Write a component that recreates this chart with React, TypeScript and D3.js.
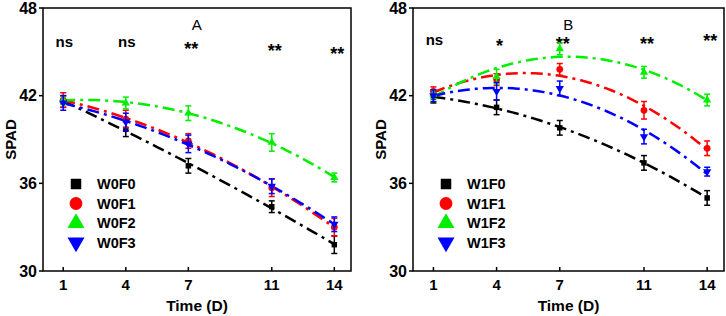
import { useEffect, useRef } from "react";
import * as d3 from "d3";

// sampling days
const days = [1, 4, 7, 11, 14];
const yTicks = [30, 36, 42, 48];

// panel A (W0)
const namesA = ["W0F0", "W0F1", "W0F2", "W0F3"];
const w0f0 = [41.6, 39.7, 37.2, 34.4, 31.8];
const w0f1 = [41.7, 40.4, 38.9, 35.7, 33.0];
const w0f2 = [41.7, 41.5, 40.8, 38.8, 36.4];
const w0f3 = [41.5, 40.2, 38.7, 35.8, 33.2];
const w0f0Err = [0.4, 0.5, 0.5, 0.4, 0.6];
const w0f1Err = [0.5, 0.6, 0.5, 0.6, 0.6];
const w0f2Err = [0.3, 0.4, 0.5, 0.6, 0.3];
const w0f3Err = [0.5, 0.6, 0.6, 0.5, 0.5];
const sigA = ["ns", "ns", "**", "**", "**"];

// panel B (W1)
const namesB = ["W1F0", "W1F1", "W1F2", "W1F3"];
const w1f0 = [41.9, 41.2, 39.8, 37.4, 35.0];
const w1f1 = [42.3, 43.1, 43.8, 41.0, 38.4];
const w1f2 = [42.1, 43.3, 45.2, 43.6, 41.7];
const w1f3 = [42.0, 42.3, 42.5, 39.2, 36.8];
const w1f0Err = [0.4, 0.5, 0.5, 0.5, 0.5];
const w1f1Err = [0.3, 0.4, 0.4, 0.6, 0.5];
const w1f2Err = [0.3, 0.5, 0.4, 0.4, 0.4];
const w1f3Err = [0.4, 0.6, 0.5, 0.5, 0.3];
const sigB = ["ns", "*", "**", "**", "**"];

const colors = ["#000000", "#ff0000", "#00ee00", "#0000ff"];
const symbols = [d3.symbolSquare, d3.symbolCircle, d3.symbolTriangle, d3.symbolTriangle];
const FONT = "'Liberation Sans', Arial, sans-serif";

// least squares quadratic fit -> [a, b, c] for a + b x + c x^2
function quadFit(xs: number[], ys: number[]) {
  const S = (p: number) => d3.sum(xs, (x) => Math.pow(x, p));
  const T = (p: number) => d3.sum(xs, (x, i) => Math.pow(x, p) * ys[i]);
  const m = [
    [S(0), S(1), S(2), T(0)],
    [S(1), S(2), S(3), T(1)],
    [S(2), S(3), S(4), T(2)],
  ];
  for (let i = 0; i < 3; i++) {
    for (let k = i + 1; k < 3; k++) {
      const f = m[k][i] / m[i][i];
      for (let j = i; j < 4; j++) m[k][j] -= f * m[i][j];
    }
  }
  const r = [0, 0, 0];
  for (let i = 2; i >= 0; i--) {
    let s = m[i][3];
    for (let j = i + 1; j < 3; j++) s -= m[i][j] * r[j];
    r[i] = s / m[i][i];
  }
  return r;
}

interface Panel {
  left: number;
  right: number;
  title: string;
  names: string[];
  values: number[][];
  errors: number[][];
  sig: string[];
  sigBase: number[];
}

const panels: Panel[] = [
  {
    left: 43,
    right: 351,
    title: "A",
    names: namesA,
    values: [w0f0, w0f1, w0f2, w0f3],
    errors: [w0f0Err, w0f1Err, w0f2Err, w0f3Err],
    sig: sigA,
    sigBase: [47, 47, 55, 57, 60],
  },
  {
    left: 413,
    right: 724,
    title: "B",
    names: namesB,
    values: [w1f0, w1f1, w1f2, w1f3],
    errors: [w1f0Err, w1f1Err, w1f2Err, w1f3Err],
    sig: sigB,
    sigBase: [45, 52, 50, 50, 47],
  },
];

export default function App() {
  const svgRef = useRef<SVGSVGElement>(null);

  useEffect(() => {
    if (!svgRef.current) return;
    const svg = d3.select(svgRef.current);
    svg.selectAll("*").remove();

    const top = 8;
    const bottom = 271;

    panels.forEach((p) => {
      const g = svg.append("g");
      const x = d3
        .scaleLinear()
        .domain([0.03, 14.8])
        .range([p.left, p.right]);
      const y = d3.scaleLinear().domain([30, 48]).range([bottom, top]);

      // y ticks (outward)
      yTicks.forEach((t) => {
        g.append("line")
          .attr("x1", p.left - 4)
          .attr("x2", p.left)
          .attr("y1", y(t))
          .attr("y2", y(t))
          .attr("stroke", "#000")
          .attr("stroke-width", 1.5);
        g.append("text")
          .attr("x", p.left - 6)
          .attr("y", y(t) + 5.5)
          .attr("text-anchor", "end")
          .attr("font-family", FONT)
          .attr("font-weight", "bold")
          .attr("font-size", 16)
          .text(t);
      });

      // x ticks (inward)
      days.forEach((d) => {
        g.append("line")
          .attr("x1", x(d))
          .attr("x2", x(d))
          .attr("y1", bottom)
          .attr("y2", bottom - 4)
          .attr("stroke", "#000")
          .attr("stroke-width", 1.5);
        g.append("text")
          .attr("x", x(d))
          .attr("y", 290)
          .attr("text-anchor", "middle")
          .attr("font-family", FONT)
          .attr("font-weight", "bold")
          .attr("font-size", 15)
          .text(d);
      });

      // frame
      g.append("rect")
        .attr("x", p.left)
        .attr("y", top)
        .attr("width", p.right - p.left)
        .attr("height", bottom - top)
        .attr("fill", "none")
        .attr("stroke", "#000")
        .attr("stroke-width", 1.5);

      // axis titles
      g.append("text")
        .attr("transform", `translate(${p.left - 27},${(top + bottom) / 2}) rotate(-90)`)
        .attr("text-anchor", "middle")
        .attr("font-family", FONT)
        .attr("font-weight", "bold")
        .attr("font-size", 15)
        .text("SPAD");
      g.append("text")
        .attr("x", (p.left + p.right) / 2)
        .attr("y", 311)
        .attr("text-anchor", "middle")
        .attr("font-family", FONT)
        .attr("font-weight", "bold")
        .attr("font-size", 15.5)
        .text("Time (D)");

      g.append("text")
        .attr("x", x(7.4))
        .attr("y", 30)
        .attr("text-anchor", "middle")
        .attr("font-family", FONT)
        .attr("font-size", 15)
        .text(p.title);

      // significance marks
      p.sig.forEach((s, i) => {
        const star = s !== "ns";
        g.append("text")
          .attr("x", x(days[i]) + (star ? 3 : 1))
          .attr("y", p.sigBase[i])
          .attr("text-anchor", "middle")
          .attr("font-family", FONT)
          .attr("font-weight", "bold")
          .attr("font-size", star ? 18 : 15)
          .text(s);
      });

      // fitted dash-dot curves
      p.values.forEach((vals, si) => {
        const [a, b, c] = quadFit(days, vals);
        const xs = d3.range(1, 14.01, 0.25);
        const path = d3
          .line<number>()
          .x((d) => x(d))
          .y((d) => y(a + b * d + c * d * d));
        g.append("path")
          .attr("d", path(xs))
          .attr("fill", "none")
          .attr("stroke", colors[si])
          .attr("stroke-width", 2.5)
          .attr("stroke-dasharray", "12,5,3,5");
      });

      // error bars and markers
      p.values.forEach((vals, si) => {
        const err = p.errors[si];
        const sg = g.append("g").attr("stroke", colors[si]).attr("stroke-width", 1.5);
        vals.forEach((v, i) => {
          const cx = x(days[i]);
          sg.append("line")
            .attr("x1", cx)
            .attr("x2", cx)
            .attr("y1", y(v - err[i]))
            .attr("y2", y(v + err[i]));
          [v - err[i], v + err[i]].forEach((e) => {
            sg.append("line")
              .attr("x1", cx - 3)
              .attr("x2", cx + 3)
              .attr("y1", y(e))
              .attr("y2", y(e));
          });
        });
        g.selectAll(null)
          .data(vals)
          .join("path")
          .attr("transform", (v, i) => `translate(${x(days[i])},${y(v)})${si === 3 ? " rotate(180)" : ""}`)
          .attr("d", d3.symbol(symbols[si], si === 1 ? 36 : 30)())
          .attr("fill", colors[si]);
      });

      // legend
      p.names.forEach((n, si) => {
        const ly = 184 + si * 19.5;
        g.append("path")
          .attr("transform", `translate(${p.left + 33},${ly})${si === 3 ? " rotate(180)" : ""}`)
          .attr("d", d3.symbol(symbols[si], si === 1 ? 130 : si === 0 ? 110 : 125)())
          .attr("fill", colors[si]);
        g.append("text")
          .attr("x", p.left + 54)
          .attr("y", ly + 5)
          .attr("font-family", FONT)
          .attr("font-weight", "bold")
          .attr("font-size", 14.5)
          .text(n);
      });
    });
  }, []);

  return (
    <svg
      ref={svgRef}
      width={726}
      height={316}
      style={{ position: "absolute", left: 0, top: 0, background: "#fff" }}
    />
  );
}
